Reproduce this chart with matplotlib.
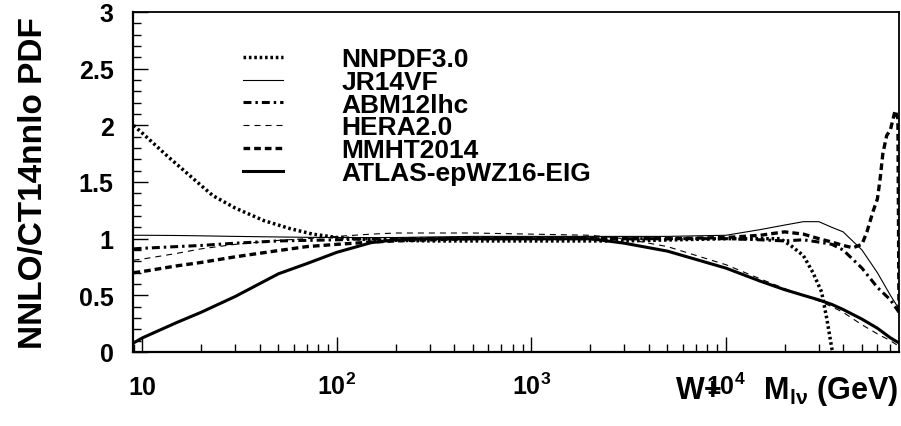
import numpy as np
import matplotlib
matplotlib.use('Agg')
import matplotlib.pyplot as plt
from matplotlib.ticker import FixedLocator, NullFormatter

plt.rcParams['font.family'] = ['Liberation Sans', 'DejaVu Sans']
plt.rcParams['font.weight'] = 'bold'
plt.rcParams['mathtext.fontset'] = 'custom'
plt.rcParams['mathtext.rm'] = 'Liberation Sans:bold'
plt.rcParams['mathtext.bf'] = 'Liberation Sans:bold'
plt.rcParams['mathtext.it'] = 'Liberation Sans:bold'
plt.rcParams['mathtext.default'] = 'regular'

# W+ invariant mass (GeV), ratios to CT14nnlo
mass = [9, 10, 15, 20, 30, 50, 70, 100, 150, 200, 300, 500, 1000, 2000,
        3000, 5000, 1e4, 1.5e4, 2e4, 2.5e4, 3e4, 3.5e4, 4e4, 5e4, 6e4, 7e4, 7.75e4]

jr14vf = [1.03, 1.03, 1.028, 1.025, 1.02, 1.015, 1.012, 1.01, 1.01, 1.01, 1.015, 1.02, 1.02, 1.02,
          1.02, 1.02, 1.03, 1.08, 1.12, 1.15, 1.15, 1.10, 1.06, 0.90, 0.70, 0.50, 0.38]
abm12 = [0.91, 0.915, 0.93, 0.94, 0.96, 0.98, 0.985, 0.99, 1.0, 1.0, 1.0, 1.0, 1.0, 1.0,
         1.0, 1.0, 1.0, 0.99, 0.98, 0.99, 0.97, 0.95, 0.90, 0.74, 0.57, 0.46, 0.35]
hera20 = [0.81, 0.82, 0.87, 0.91, 0.95, 0.985, 1.0, 1.02, 1.04, 1.05, 1.05, 1.05, 1.04, 1.03,
          1.0, 0.93, 0.77, 0.645, 0.56, 0.50, 0.45, 0.40, 0.35, 0.24, 0.16, 0.10, 0.05]
atlas = [0.08, 0.125, 0.26, 0.35, 0.49, 0.69, 0.78, 0.88, 0.965, 0.99, 1.0, 1.0, 1.0, 1.0,
         0.96, 0.89, 0.74, 0.625, 0.55, 0.50, 0.46, 0.42, 0.375, 0.29, 0.21, 0.125, 0.08]

mass_nnpdf = [9, 10, 13.4, 20, 23, 30, 42, 57, 75, 100, 150, 300, 1000, 3000,
              1e4, 1.9e4, 2.15e4, 2.5e4, 2.8e4, 3.1e4, 3.3e4, 3.5e4, 3.55e4]
nnpdf30 = [2.0, 1.93, 1.73, 1.47, 1.38, 1.27, 1.16, 1.09, 1.04, 1.01, 0.99, 0.98, 0.98, 0.98,
           1.0, 1.0, 0.94, 0.85, 0.70, 0.53, 0.29, 0.03, 0.0]

mass_mmht = [9, 10, 15, 20, 30, 50, 70, 100, 150, 200, 300, 500, 1000, 2000, 5000,
             1e4, 1.5e4, 2e4, 2.5e4, 3e4, 3.5e4, 4e4, 4.5e4, 5e4, 5.3e4, 5.7e4, 6e4,
             6.2e4, 6.4e4, 6.7e4, 7e4, 7.4e4, 7.65e4, 7.75e4]
mmht14 = [0.70, 0.71, 0.76, 0.79, 0.84, 0.895, 0.93, 0.95, 0.97, 0.98, 0.99, 1.0, 1.0, 1.0, 1.0,
          1.01, 1.03, 1.06, 1.04, 1.0, 0.97, 0.94, 0.92, 0.95, 1.06, 1.24, 1.35,
          1.53, 1.75, 1.91, 1.96, 2.13, 2.06, 0.33]

ytick_vals = [0, 0.5, 1, 1.5, 2, 2.5, 3]
ytick_labels = ['0', '0.5', '1', '1.5', '2', '2.5', '3']
xtick_vals = [10, 100, 1000, 10000]
xtick_labels = ['10', r'$10^{2}$', r'$10^{3}$', r'$10^{4}$']

fig = plt.figure(figsize=(9.01, 4.27), dpi=100)
ax = fig.add_axes([133 / 901, 74 / 427, 766 / 901, 340 / 427])

thick = 2.2
thin = 0.8
ax.plot(mass_nnpdf, nnpdf30, color='k', lw=2.5, ls=(0, (0.75, 0.8)), label='NNPDF3.0')
ax.plot(mass, jr14vf, color='k', lw=thin, ls='-', label='JR14VF')
ax.plot(mass, abm12, color='k', lw=thick, ls=(0, (2.6, 1.3, 0.8, 1.3)), label='ABM12lhc')
ax.plot(mass, hera20, color='k', lw=thin, ls=(0, (5.4, 4.5)), label='HERA2.0')
ax.plot(mass_mmht, mmht14, color='k', lw=2.4, ls=(0, (2.0, 1.2)), label='MMHT2014')
ax.plot(mass, atlas, color='k', lw=thick, ls='-', label='ATLAS-epWZ16-EIG')

ax.set_xscale('log')
ax.set_xlim(8.94, 77500)
ax.set_ylim(0, 3)

ax.set_yticks(ytick_vals)
ax.set_yticklabels(ytick_labels)
ax.yaxis.set_minor_locator(FixedLocator(np.arange(0, 3.01, 0.1)))
ax.set_xticks(xtick_vals)
ax.set_xticklabels(xtick_labels)
minors = [k * 10 ** e for e in range(0, 5) for k in range(2, 10)]
ax.xaxis.set_minor_locator(FixedLocator(minors))
ax.xaxis.set_minor_formatter(NullFormatter())

ax.tick_params(which='both', direction='in', top=False, right=False, width=1, color='k')
ax.tick_params(which='major', length=10.8, labelsize=18)
ax.tick_params(which='minor', length=5.8)
ax.tick_params(axis='y', pad=14)
ax.tick_params(axis='x', pad=30)
for t in ax.xaxis.get_major_ticks():
    t.label1.set_verticalalignment('baseline')

for side in ['left', 'bottom']:
    ax.spines[side].set_linewidth(1.6)
for side in ['top', 'right']:
    ax.spines[side].set_linewidth(1.3)

ax.set_ylabel('NNLO/CT14nnlo PDF', fontsize=24, fontweight='bold')
ax.yaxis.set_label_coords(-0.11, 0.5)
ax.set_xlabel(r'W+     $M_{l\nu}$ (GeV)', fontsize=22, fontweight='bold')
ax.xaxis.set_label_coords(1.0, -0.062)
ax.xaxis.label.set_horizontalalignment('right')
ax.xaxis.label.set_verticalalignment('top')

ax.legend(loc='upper left', bbox_to_anchor=(0.1436, 0.896), frameon=False,
          fontsize=19, handlelength=1.52, handletextpad=2.2, labelspacing=-0.05,
          borderpad=0, borderaxespad=0)

fig.savefig('out.png', dpi=100)
